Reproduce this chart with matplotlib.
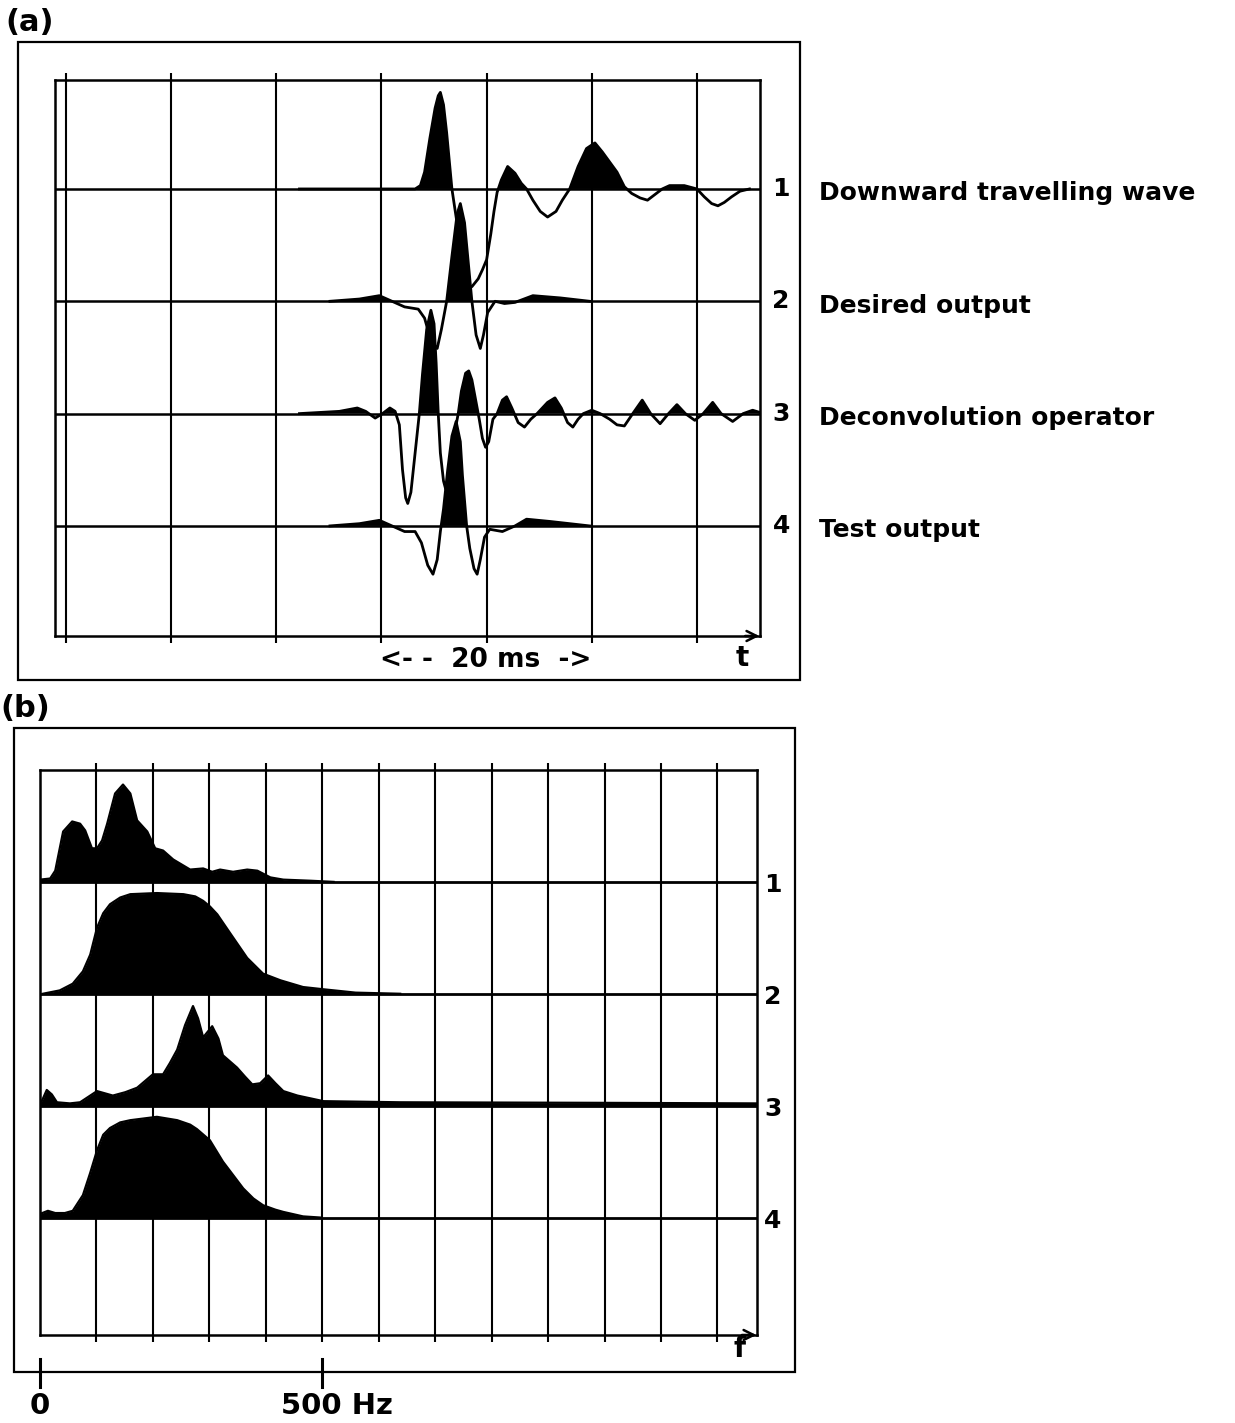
import matplotlib
matplotlib.use("Agg")
import matplotlib.pyplot as plt
from matplotlib.patches import Rectangle
import numpy as np

plt.rcParams['font.family'] = ['DejaVu Sans']
plt.rcParams['font.weight'] = 'bold'

# ---- (a) time traces, t in ms, amplitude in trace-spacing units
t1 = [22.2, 33.2, 33.7, 34.1, 34.6, 35.1, 35.4, 35.6, 35.9, 36.2, 36.5, 36.7, 37.1, 37.5, 37.8, 38.2,
      38.6, 39.2, 39.6, 40.0, 40.4, 40.7, 41.0, 41.4, 42.0, 42.7, 43.3, 43.8, 44.4, 45.1, 45.8, 46.6,
      47.2, 47.9, 48.7, 49.5, 50.3, 51.0, 51.7, 52.4, 53.1, 53.8, 54.6, 55.3, 56.0, 56.7, 57.4, 58.8,
      60.0, 60.7, 61.4, 62.0, 62.6, 63.3, 64.1, 65.0]
a1 = [0.0, 0.0, 0.03, 0.15, 0.45, 0.72, 0.83, 0.86, 0.75, 0.5, 0.2, 0.0, -0.25, -0.5, -0.72, -0.86,
      -0.87, -0.8, -0.72, -0.63, -0.4, -0.2, -0.03, 0.08, 0.2, 0.14, 0.05, 0.0, -0.1, -0.2, -0.25, -0.2,
      -0.1, 0.0, 0.2, 0.36, 0.41, 0.33, 0.24, 0.15, 0.02, -0.04, -0.08, -0.1, -0.05, 0.0, 0.03, 0.03,
      0.0, -0.07, -0.13, -0.15, -0.12, -0.07, -0.02, 0.0]

t2 = [25.1, 27.9, 29.8, 31.0, 32.2, 33.5, 34.1, 34.7, 35.3, 35.7, 36.2, 36.7, 37.2, 37.5, 37.9, 38.3,
      38.6, 39.0, 39.4, 39.7, 40.1, 40.8, 41.7, 42.7, 44.4, 47.0, 49.8]
a2 = [0.0, 0.02, 0.05, 0.0, -0.05, -0.07, -0.15, -0.35, -0.42, -0.25, 0.0, 0.4, 0.78, 0.87, 0.7, 0.3,
      0.0, -0.3, -0.42, -0.3, -0.1, 0.0, -0.02, -0.01, 0.05, 0.03, 0.0]

t3 = [22.2, 26.0, 27.7, 28.5, 29.4, 30.1, 30.8, 31.3, 31.7, 32.0, 32.3, 32.5, 32.8, 33.2, 33.6, 33.9,
      34.3, 34.7, 35.0, 35.2, 35.4, 35.6, 35.9, 36.1, 36.4, 36.8, 37.3, 37.6, 38.0, 38.3, 38.6, 39.0,
      39.3, 39.6, 39.9, 40.2, 40.6, 41.0, 41.5, 41.9, 42.4, 43.0, 43.6, 44.2, 44.8, 45.8, 46.5, 47.1,
      47.7, 48.2, 48.7, 49.2, 50.0, 50.8, 51.7, 52.4, 53.1, 53.9, 54.8, 55.6, 56.5, 57.3, 58.1, 58.9,
      59.8, 60.6, 61.5, 62.3, 63.4, 64.4, 65.3, 66.0]
a3 = [0.0, 0.02, 0.05, 0.02, -0.04, 0.0, 0.05, 0.02, -0.1, -0.5, -0.75, -0.8, -0.7, -0.35, 0.0, 0.35,
      0.75, 0.92, 0.8, 0.45, 0.0, -0.35, -0.6, -0.67, -0.55, -0.25, 0.0, 0.2, 0.36, 0.38, 0.3, 0.1,
      -0.05, -0.22, -0.3, -0.25, -0.05, 0.0, 0.12, 0.15, 0.05, -0.08, -0.12, -0.05, 0.0, 0.1, 0.14, 0.05,
      -0.08, -0.12, -0.05, 0.0, 0.03, 0.0, -0.05, -0.1, -0.11, 0.0, 0.12, 0.0, -0.09, 0.0, 0.08, 0.0,
      -0.06, 0.0, 0.1, 0.0, -0.07, 0.0, 0.03, 0.01]

t4 = [25.1, 27.9, 29.8, 31.0, 32.2, 33.2, 33.8, 34.4, 34.9, 35.3, 35.6, 35.9, 36.3, 36.7, 37.1, 37.5,
      37.7, 38.1, 38.4, 38.8, 39.1, 39.4, 39.8, 40.3, 41.5, 42.7, 43.8, 46.0, 49.8]
a4 = [0.0, 0.02, 0.05, 0.0, -0.05, -0.05, -0.15, -0.35, -0.43, -0.3, -0.05, 0.15, 0.5, 0.8, 0.93, 0.75,
      0.45, 0.0, -0.2, -0.38, -0.43, -0.3, -0.1, -0.03, -0.05, 0.0, 0.06, 0.04, 0.0]

trace_names = ['Downward travelling wave', 'Desired output', 'Deconvolution operator', 'Test output']
trace_nums = ['1', '2', '3', '4']

# ---- (b) amplitude spectra, f in Hz
f1 = [0, 18, 27, 41, 57, 71, 80, 92, 101, 110, 119, 133, 147, 160, 172, 190, 204, 218, 236, 266,
      289, 305, 319, 342, 367, 385, 408, 431, 480, 520]
s1 = [0.02, 0.03, 0.1, 0.45, 0.54, 0.52, 0.46, 0.3, 0.3, 0.37, 0.52, 0.79, 0.87, 0.79, 0.55, 0.45,
      0.3, 0.28, 0.2, 0.11, 0.12, 0.09, 0.11, 0.09, 0.11, 0.1, 0.04, 0.02, 0.01, 0.0]

f2 = [5, 35, 58, 76, 89, 101, 112, 124, 142, 160, 207, 254, 275, 289, 301, 314, 337, 367, 395, 426,
      466, 502, 559, 638]
s2 = [0.0, 0.03, 0.09, 0.2, 0.35, 0.59, 0.72, 0.8, 0.86, 0.89, 0.9, 0.89, 0.87, 0.83, 0.78, 0.71,
      0.54, 0.32, 0.18, 0.12, 0.06, 0.04, 0.01, 0.0]

f3 = [0, 4, 12, 21, 30, 53, 71, 89, 101, 115, 129, 151, 172, 186, 200, 218, 230, 243, 257, 271, 280,
      289, 305, 316, 324, 349, 363, 376, 390, 404, 417, 431, 456, 502, 638, 993, 1270]
s3 = [0.03, 0.05, 0.14, 0.1, 0.03, 0.02, 0.03, 0.09, 0.13, 0.11, 0.09, 0.12, 0.16, 0.22, 0.28, 0.28,
      0.38, 0.5, 0.72, 0.89, 0.78, 0.61, 0.71, 0.6, 0.45, 0.34, 0.26, 0.19, 0.2, 0.27, 0.2, 0.13, 0.09,
      0.04, 0.03, 0.025, 0.02]

f4 = [0, 4, 14, 27, 44, 58, 76, 89, 101, 112, 124, 142, 160, 207, 243, 266, 278, 301, 324, 342, 360,
      378, 395, 417, 431, 466, 496]
s4 = [0.03, 0.04, 0.06, 0.04, 0.04, 0.06, 0.2, 0.4, 0.6, 0.74, 0.8, 0.85, 0.87, 0.9, 0.87, 0.83, 0.79,
      0.69, 0.5, 0.38, 0.26, 0.17, 0.11, 0.07, 0.05, 0.01, 0.0]

scale_hz = [0, 500]
scale_labels = ['0', '500 Hz']

fig = plt.figure(figsize=(12.35, 14.23), dpi=100)

# outer frames
fig.add_artist(Rectangle((0.0146, 0.5221), 0.6332, 0.4484, transform=fig.transFigure,
                         fill=False, lw=1.6, ec='k'))
fig.add_artist(Rectangle((0.0113, 0.0358), 0.6324, 0.4526, transform=fig.transFigure,
                         fill=False, lw=1.6, ec='k'))
fig.text(0.004, 0.984, '(a)', fontsize=22, fontweight='bold', va='center', ha='left',
         bbox=dict(fc='white', ec='none', pad=1))
fig.text(0.0, 0.502, '(b)', fontsize=22, fontweight='bold', va='center', ha='left',
         bbox=dict(fc='white', ec='none', pad=1))

def grid_frame(ax, ticks):
    ax.set_xticks(ticks)
    ax.set_yticks([])
    ax.tick_params(axis='x', direction='out', length=5, width=1.5, top=True, bottom=True,
                   labelbottom=False, labeltop=False)
    ax.grid(axis='x', color='k', lw=1.5)
    ax.set_axisbelow(True)
    for s in ax.spines.values():
        s.set_linewidth(1.8)
    ax.annotate('', xy=(1.003, 0), xytext=(0.975, 0), xycoords='axes fraction',
                arrowprops=dict(arrowstyle='->', lw=1.8, color='k', mutation_scale=18))

# ---- panel (a)
ax = fig.add_axes([0.04453, 0.55306, 0.57085, 0.39072])
ax.set_xlim(-1.05, 66.0)
ax.set_ylim(0.02, 4.97)
grid_frame(ax, np.arange(0, 61, 10))

traces = [(t1, a1), (t2, a2), (t3, a3), (t4, a4)]
for i, (t, a) in enumerate(traces):
    base = 4 - i
    ax.axhline(base, color='k', lw=1.8, zorder=2)
    t = np.array(t)
    a = np.array(a)
    ax.fill_between(t, base, base + a, where=a > 0, interpolate=True, color='k', lw=0, zorder=3)
    ax.plot(t, base + a, color='k', lw=2.0, zorder=4, solid_joinstyle='round')
    yt = ax.get_yaxis_transform()
    ax.text(1.03, base, trace_nums[i], transform=yt, fontsize=18, fontweight='bold',
            ha='center', va='center', clip_on=False)
    ax.text(1.083, base - 0.04, trace_names[i], transform=yt, fontsize=18, fontweight='bold',
            ha='left', va='center', clip_on=False)

xt = ax.get_xaxis_transform()
ax.text(39.9, -0.043, '<- -  20 ms  ->', transform=xt, fontsize=19, fontweight='bold',
        ha='center', va='center')
ax.text(0.975, -0.04, 't', transform=ax.transAxes, fontsize=20, fontweight='bold',
        ha='center', va='center')

# ---- panel (b)
bx = fig.add_axes([0.03239, 0.06184, 0.58057, 0.39705])
bx.set_xlim(0, 1270)
bx.set_ylim(-0.05, 5.0)
grid_frame(bx, np.arange(100, 1201, 100))

spectra = [(f1, s1), (f2, s2), (f3, s3), (f4, s4)]
for i, (f, s) in enumerate(spectra):
    base = 4 - i
    bx.axhline(base, color='k', lw=2.0, zorder=2)
    f = np.array(f)
    s = np.array(s)
    bx.fill_between(f, base, base + s, color='k', lw=0, zorder=3)
    bx.plot(f, base + s, color='k', lw=1.6, zorder=4)
    bx.text(1.022, base - 0.03, trace_nums[i], transform=bx.get_yaxis_transform(), fontsize=18,
            fontweight='bold', ha='center', va='center', clip_on=False)

bx.text(0.975, -0.025, 'f', transform=bx.transAxes, fontsize=20, fontweight='bold',
        ha='center', va='center')

bxt = bx.get_xaxis_transform()
for hz, lab in zip(scale_hz, scale_labels):
    bx.plot([hz, hz], [-0.043, -0.092], transform=bxt, color='k', lw=2.2, clip_on=False)
    if lab == '0':
        bx.text(hz, -0.125, lab, transform=bxt, fontsize=21, fontweight='bold',
                ha='center', va='center')
    else:
        bx.annotate(lab, xy=(hz, -0.125), xycoords=bxt, xytext=(-30, 0),
                    textcoords='offset points', fontsize=21, fontweight='bold',
                    ha='left', va='center')

fig.savefig('out.png', dpi=100)
